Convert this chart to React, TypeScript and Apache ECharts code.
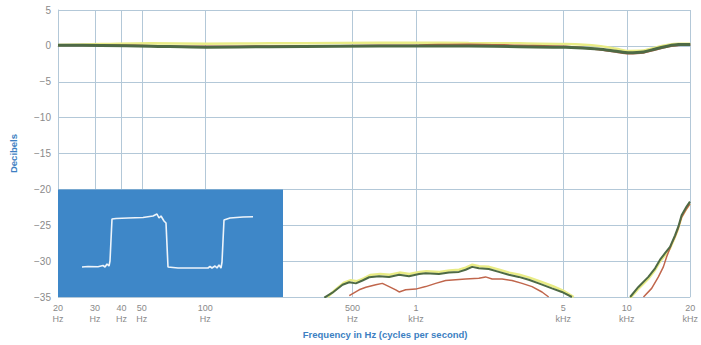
import React, { useEffect, useRef } from "react";
import * as echarts from "echarts";

// ---- axis ticks ----
const tickFreqs = [20, 30, 40, 50, 100, 500, 1000, 5000, 10000, 20000];
const tickLabels = ["20\nHz", "30\nHz", "40\nHz", "50\nHz", "100\nHz", "500\nHz", "1\nkHz", "5\nkHz", "10\nkHz", "20\nkHz"];
const yMin = -35;
const yMax = 5;
const yStep = 5;

// ---- top (0 dB) curves ----
const topFreqs = [20, 32, 55, 101, 201, 432, 1033, 1780, 3070, 5123, 7340, 8930, 10180, 12000, 13380, 15750, 17554, 20000];
const topGreen = [0.1, 0.05, -0.05, -0.18, -0.12, -0.05, 0.0, -0.02, -0.12, -0.2, -0.44, -0.75, -0.95, -0.85, -0.5, -0.02, 0.18, 0.2];
const topYellow = [0.12, 0.25, 0.35, 0.3, 0.35, 0.4, 0.45, 0.4, 0.35, 0.25, 0.0, -0.4, -0.7, -0.65, -0.3, 0.15, 0.3, 0.3];
const topRed = [0.1, 0.1, 0.0, -0.1, -0.05, 0.0, 0.1, 0.2, 0.05, -0.1, -0.5, -0.85, -1.05, -0.95, -0.6, -0.1, 0.1, 0.15];

// ---- mid-band curves ----
const midGreenFreqs = [367, 401, 448, 482, 518, 557, 599, 668, 745, 831, 926, 1033, 1111, 1284, 1432, 1597, 1718, 1846, 1986, 2214, 2469, 2753, 3070, 3424, 3818, 4414, 4920, 5488];
const midGreen = [-35.1, -34.4, -33.3, -32.95, -33.1, -32.7, -32.25, -32.1, -32.2, -31.9, -32.1, -31.8, -31.7, -31.8, -31.6, -31.5, -31.2, -30.8, -31.0, -31.1, -31.5, -31.9, -32.2, -32.6, -33.1, -33.8, -34.3, -35.0];
const midYellowFreqs = [380, 410, 455, 490, 525, 565, 605, 675, 750, 835, 930, 1040, 1120, 1290, 1440, 1600, 1720, 1850, 1990, 2220, 2480, 2770, 3090, 3450, 3850, 4460, 4980, 5600];
const midYellow = [-35.0, -34.1, -33.0, -32.65, -32.8, -32.4, -31.95, -31.8, -31.9, -31.6, -31.8, -31.5, -31.4, -31.5, -31.3, -31.2, -30.9, -30.5, -30.7, -30.8, -31.2, -31.6, -31.9, -32.3, -32.8, -33.5, -34.1, -35.0];
const midRedFreqs = [482, 537, 578, 644, 692, 745, 801, 831, 893, 996, 1111, 1239, 1382, 1541, 1718, 1986, 2136, 2296, 2560, 2854, 3184, 3550, 3958, 4258];
const midRed = [-34.8, -34.0, -33.65, -33.3, -33.1, -33.55, -34.0, -34.3, -34.0, -33.9, -33.55, -33.1, -32.7, -32.6, -32.5, -32.4, -32.2, -32.5, -32.5, -32.7, -33.1, -33.55, -34.3, -35.0];

// ---- high-frequency rise ----
const hiGreenFreqs = [10368, 11350, 12658, 13616, 14380, 15184, 16036, 16934, 17554, 18196, 19214, 19940];
const hiGreen = [-35.0, -33.6, -32.2, -31.0, -29.8, -28.9, -28.0, -26.4, -25.2, -23.6, -22.4, -21.7];
const hiYellow = [-35.2, -33.9, -32.5, -31.3, -30.1, -29.2, -28.3, -26.7, -25.5, -23.9, -22.7, -22.0];
const hiRedFreqs = [12000, 13120, 14120, 14910, 15454, 16318, 16934, 17554, 18196, 19214, 19940];
const hiRed = [-35.0, -33.8, -32.2, -30.8, -29.4, -27.6, -26.6, -25.4, -23.9, -22.7, -22.0];

// ---- inset oscilloscope trace (time units, amplitude units) ----
const traceTime = [24, 30, 40, 45, 47, 49, 51, 52, 54, 58, 70, 85, 95, 99, 101, 103, 106, 108, 110, 120, 140, 150, 152, 154, 157, 159, 161, 163, 164, 166, 172, 185, 195];
const traceAmp = [30, 30.5, 30.3, 31.5, 30, 33, 31, 36, 78, 78.5, 79, 79.5, 81, 83, 79, 81, 76, 74, 30, 29, 29, 29, 30.5, 29, 31, 29, 32, 29, 35, 77, 79, 80, 80.3];

const GREEN = "#4e6a45";
const YELLOW = "#e9ec86";
const RED = "#c0664c";
const BLUE = "#3e87c8";
const GRID = "#b3c8d8";
const LABEL = "#8a8a8a";
const NAME = "#3d7fc2";

const pairs = (fs: number[], vs: number[]) => fs.map((f, i) => [Math.log10(f), vs[i]]);

export default function App() {
  const ref = useRef<HTMLDivElement>(null);

  useEffect(() => {
    if (!ref.current) return;
    const chart = echarts.init(ref.current, null, { renderer: "svg" });

    const gLeft = 58;
    const gTop = 10;
    const gWidth = 634;
    const gHeight = 287;
    const insetWidth = 225;
    const insetTopVal = -20;
    const insetTop = gTop + ((yMax - insetTopVal) / (yMax - yMin)) * gHeight;
    const insetHeight = gTop + gHeight - insetTop;

    const tickLogs = tickFreqs.map((f) => Math.log10(f));

    const line = (name: string, data: number[][], color: string, width: number, z: number, smooth: number | boolean = false) => ({
      name,
      type: "line",
      data,
      showSymbol: false,
      symbol: "none",
      smooth,
      z,
      lineStyle: { color, width },
      xAxisIndex: 0,
      yAxisIndex: 0,
    });

    chart.setOption({
      animation: false,
      backgroundColor: "#ffffff",
      textStyle: { fontFamily: "Liberation Sans, Arial, sans-serif" },
      grid: [
        { left: gLeft, top: gTop, width: gWidth, height: gHeight, containLabel: false },
        { left: gLeft, top: insetTop, width: insetWidth, height: insetHeight, containLabel: false },
      ],
      xAxis: [
        {
          type: "value",
          gridIndex: 0,
          min: Math.log10(20),
          max: Math.log10(20000),
          axisLine: { show: true, lineStyle: { color: GRID, width: 1 } },
          axisTick: { show: false, customValues: tickLogs },
          axisLabel: {
            customValues: tickLogs,
            showMinLabel: true,
            showMaxLabel: true,
            hideOverlap: false,
            color: LABEL,
            fontSize: 9,
            lineHeight: 11,
            margin: 5,
            formatter: (v: number) => {
              const i = tickLogs.findIndex((t) => Math.abs(t - v) < 1e-6);
              return i >= 0 ? tickLabels[i] : "";
            },
          },
          splitLine: { show: true, lineStyle: { color: GRID, width: 1 } },
          name: "Frequency in Hz (cycles per second)",
          nameLocation: "middle",
          nameGap: 32,
          nameTextStyle: { color: NAME, fontSize: 9.5, fontWeight: "bold", padding: [0, 0, 0, 22] },
        },
        {
          type: "value",
          gridIndex: 1,
          min: 0,
          max: insetWidth,
          show: false,
        },
      ],
      yAxis: [
        {
          type: "value",
          gridIndex: 0,
          min: yMin,
          max: yMax,
          interval: yStep,
          axisLine: { show: true, lineStyle: { color: GRID, width: 1 } },
          axisTick: { show: false },
          axisLabel: {
            color: LABEL,
            fontSize: 10,
            margin: 7,
            formatter: (v: number) => (v < 0 ? "\u2212" + Math.abs(v) : String(v)),
          },
          splitLine: { show: true, lineStyle: { color: GRID, width: 1 } },
          name: "Decibels",
          nameLocation: "middle",
          nameGap: 40,
          nameRotate: 90,
          nameTextStyle: { color: NAME, fontSize: 9.5, fontWeight: "bold" },
        },
        {
          type: "value",
          gridIndex: 1,
          min: 0,
          max: insetHeight,
          show: false,
        },
      ],
      graphic: [
        {
          type: "rect",
          z: 10,
          shape: { x: gLeft, y: insetTop, width: insetWidth, height: insetHeight },
          style: { fill: BLUE },
        },
      ],
      series: [
        line("yellow-top", pairs(topFreqs, topYellow), YELLOW, 2.5, 2, 0.3),
        line("red-top", pairs(topFreqs, topRed), RED, 2, 3, 0.3),
        line("green-top", pairs(topFreqs, topGreen), GREEN, 3, 4, 0.3),
        line("yellow-mid", pairs(midYellowFreqs, midYellow), YELLOW, 2.5, 2),
        line("red-mid", pairs(midRedFreqs, midRed), RED, 1.5, 3),
        line("green-mid", pairs(midGreenFreqs, midGreen), GREEN, 2, 4),
        line("yellow-hi", pairs(hiGreenFreqs, hiYellow), YELLOW, 2, 2),
        line("red-hi", pairs(hiRedFreqs, hiRed), RED, 1.5, 3),
        line("green-hi", pairs(hiGreenFreqs, hiGreen), GREEN, 2, 4),
        {
          name: "trace",
          type: "line",
          xAxisIndex: 1,
          yAxisIndex: 1,
          data: traceTime.map((t, i) => [t, traceAmp[i]]),
          showSymbol: false,
          symbol: "none",
          z: 20,
          lineStyle: { color: "#eef4fa", width: 1.6 },
        },
      ],
    });

    return () => chart.dispose();
  }, []);

  return (
    <div
      ref={ref}
      style={{ position: "fixed", left: 0, top: 0, width: 701, height: 345, background: "#fff" }}
    />
  );
}
